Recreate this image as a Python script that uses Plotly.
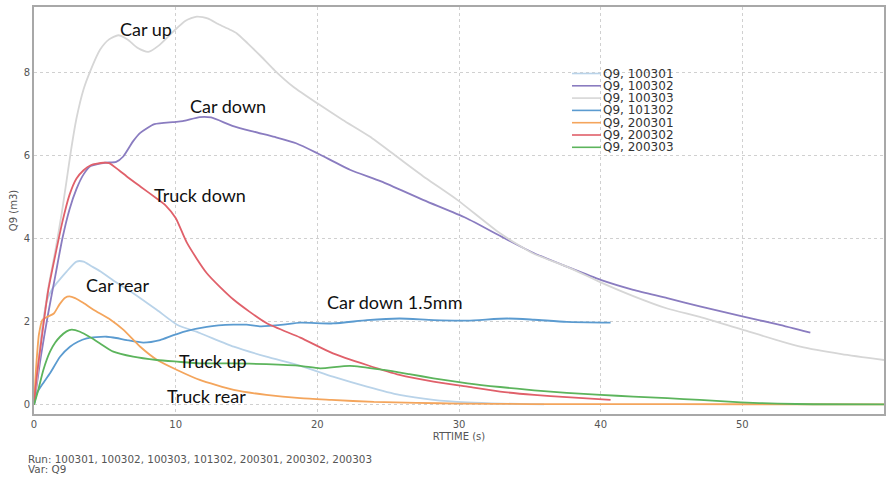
import plotly.graph_objects as go

# ---------------- data ----------------
runs = ["Q9, 100301", "Q9, 100302", "Q9, 100303", "Q9, 101302",
        "Q9, 200301", "Q9, 200302", "Q9, 200303"]
colors = ["#b9d3e9", "#8a7cc0", "#d6d6d6", "#5b9bd0",
          "#f4a55c", "#e0606a", "#5cb45c"]

# 100301 - Car rear
x_100301 = [0, 0.3, 0.6, 0.9, 1.3, 1.6, 2.3, 3.0, 3.5, 4.0, 4.7, 5.8, 7.0, 8.66, 10.1,
            11.7, 14.1, 16.4, 18.8, 21.1, 23.5, 25.8, 28.2, 30.6, 33.0, 36.0]
y_100301 = [0, 1.0, 1.9, 2.5, 2.8, 2.93, 3.21, 3.45, 3.45, 3.35, 3.21, 2.95, 2.69, 2.29, 1.93,
            1.73, 1.40, 1.16, 0.94, 0.68, 0.44, 0.24, 0.12, 0.06, 0.03, 0.01]

# 100302 - Car down
x_100302 = [0, 0.5, 1.0, 1.5, 2.0, 2.5, 3.0, 3.5, 4.0, 5.0, 5.8, 6.3, 7.0, 7.5, 8.5, 9.8,
            10.5, 11.7, 12.5, 14.0, 15.5, 17.0, 18.5, 20.0, 22.3, 24.5, 27.5, 30.5, 33.0,
            35.3, 37.6, 40.0, 42.3, 44.7, 47.0, 50.0, 52.5, 54.8]
y_100302 = [0, 1.2, 2.2, 3.1, 4.0, 4.7, 5.2, 5.55, 5.75, 5.83, 5.85, 5.98, 6.35, 6.55, 6.76, 6.81,
            6.83, 6.93, 6.92, 6.72, 6.58, 6.45, 6.30, 6.06, 5.66, 5.38, 4.93, 4.50, 4.05,
            3.65, 3.33, 3.01, 2.77, 2.57, 2.37, 2.13, 1.94, 1.74]

# 100303 - Car up
x_100303 = [0, 0.3, 0.6, 1.0, 1.5, 1.95, 2.3, 2.6, 3.0, 3.5, 3.95, 4.66, 5.3, 5.95, 6.6, 7.3,
            8.07, 8.8, 9.83, 10.7, 11.5, 12.3, 13.0, 13.8, 14.3, 15.1, 16.0, 17.0, 18.3,
            20.0, 21.8, 23.7, 25.6, 27.7, 29.9, 32.9, 35.2, 37.6, 40.0, 42.3, 44.7, 47.0,
            50.0, 54.1, 57.0, 60.0]
y_100303 = [0, 0.9, 1.8, 2.8, 3.7, 4.6, 5.4, 6.1, 6.9, 7.6, 8.02, 8.55, 8.8, 8.9, 8.8, 8.6,
            8.5, 8.65, 8.99, 9.25, 9.35, 9.3, 9.17, 9.04, 8.95, 8.7, 8.4, 8.05, 7.66,
            7.26, 6.86, 6.46, 5.98, 5.45, 4.93, 4.13, 3.65, 3.33, 2.95, 2.62, 2.32, 2.12,
            1.81, 1.40, 1.22, 1.08]

# 101302 - Car down 1.5mm
x_101302 = [0, 0.2, 0.6, 1.13, 1.84, 2.54, 3.1, 3.72, 4.4, 5.13, 5.8, 6.55, 7.72, 8.9, 9.7,
            10.54, 12.2, 14.07, 15.0, 16.0, 17.6, 18.8, 21.1, 23.5, 25.8, 28.2, 30.6, 33.4,
            35.3, 37.6, 40.7]
y_101302 = [0, 0.28, 0.5, 0.76, 1.16, 1.40, 1.52, 1.60, 1.63, 1.64, 1.61, 1.56, 1.50, 1.56, 1.66,
            1.76, 1.88, 1.93, 1.93, 1.89, 1.93, 1.98, 1.96, 2.04, 2.08, 2.04, 2.03, 2.08,
            2.05, 2.00, 1.98]

# 200301 - Truck rear
x_200301 = [0, 0.15, 0.35, 0.6, 1.0, 1.4, 1.8, 2.2, 2.5, 2.9, 3.5, 4.2, 5.4, 6.3, 7.5, 8.7,
            10.1, 11.7, 14.1, 16.4, 18.8, 21.0, 24.0, 27.0, 30.0, 35.0, 40.0, 50.0, 60.0]
y_200301 = [0, 0.9, 1.7, 2.05, 2.13, 2.2, 2.42, 2.58, 2.61, 2.57, 2.45, 2.29, 2.05, 1.81, 1.40, 1.08,
            0.84, 0.60, 0.36, 0.24, 0.16, 0.12, 0.07, 0.05, 0.03, 0.02, 0.02, 0.015, 0.01]

# 200302 - Truck down
x_200302 = [0, 0.2, 0.5, 1.0, 1.5, 2.0, 2.5, 3.0, 3.5, 4.0, 4.9, 5.3, 6.0, 6.55, 7.5, 8.66,
            9.3, 10.0, 10.8, 12.2, 14.1, 16.4, 18.8, 21.1, 23.5, 25.8, 28.2, 30.6, 32.9,
            35.3, 37.6, 40.7]
y_200302 = [0, 0.7, 1.5, 2.75, 3.6, 4.4, 5.05, 5.45, 5.65, 5.77, 5.83, 5.82, 5.65, 5.5, 5.26, 4.97,
            4.8, 4.5, 3.9, 3.17, 2.53, 1.97, 1.62, 1.24, 0.96, 0.72, 0.56, 0.44, 0.32,
            0.24, 0.185, 0.12]

# 200303 - Truck up
x_200303 = [0, 0.3, 0.66, 1.13, 1.5, 1.84, 2.3, 2.66, 3.25, 4.0, 4.66, 5.6, 7.0, 8.66, 10.1,
            11.7, 14.0, 16.4, 18.8, 20.2, 22.3, 24.7, 26.5, 28.2, 30.6, 32.9, 35.3, 37.6,
            40.0, 42.3, 44.7, 47.0, 49.9, 52.5, 55.0, 60.0]
y_200303 = [0, 0.36, 0.84, 1.28, 1.5, 1.64, 1.77, 1.81, 1.76, 1.62, 1.48, 1.28, 1.16, 1.08, 1.04,
            1.0, 1.0, 0.98, 0.94, 0.88, 0.94, 0.84, 0.74, 0.64, 0.52, 0.43, 0.35, 0.29,
            0.24, 0.20, 0.16, 0.12, 0.06, 0.03, 0.015, 0.01]

series_x = [x_100301, x_100302, x_100303, x_101302, x_200301, x_200302, x_200303]
series_y = [y_100301, y_100302, y_100303, y_101302, y_200301, y_200302, y_200303]

# callout labels added on the chart
label_text = ["Car up", "Car down", "Truck down", "Car rear", "Car down 1.5mm", "Truck up", "Truck rear"]
label_x = [7.93, 13.66, 11.75, 5.87, 25.48, 12.6, 12.17]
label_y = [9.06, 7.19, 5.06, 2.88, 2.47, 1.06, 0.22]

x_ticks = [0, 10, 20, 30, 40, 50, 60]
y_ticks = [0, 2, 4, 6, 8]
footer_lines = ["Run: 100301, 100302, 100303, 101302, 200301, 200302, 200303", "Var: Q9"]

# ---------------- layout constants ----------------
W, H = 886, 479
ML, MR, MT, MB = 34, 2, 7, 65
PW, PH = W - ML - MR, H - MT - MB


def px_to_paper_x(px):
    return (px - ML) / PW


def py_to_paper_y(py):
    return (H - MB - py) / PH


fig = go.Figure()
for name, xs, ys, c in zip(runs, series_x, series_y, colors):
    fig.add_trace(go.Scatter(x=xs, y=ys, mode="lines", name=name,
                             line=dict(color=c, width=1.8, shape="spline", smoothing=0.6),
                             showlegend=False))

# callout annotations
for t, ax, ay in zip(label_text, label_x, label_y):
    fig.add_annotation(x=ax, y=ay, xref="x", yref="y", text=t, showarrow=False,
                       font=dict(family="Lato", size=18, color="#111111"))

# manual compact legend (matplotlib-like spacing)
shapes = [dict(type="rect", xref="paper", yref="paper", layer="between",
               x0=px_to_paper_x(568), x1=px_to_paper_x(682),
               y0=py_to_paper_y(63), y1=py_to_paper_y(153),
               fillcolor="white", line=dict(width=0))]
leg_y0, leg_dy = 73.5, 12.3
for i, (name, c) in enumerate(zip(runs, colors)):
    py = leg_y0 + i * leg_dy
    shapes.append(dict(type="line", xref="paper", yref="paper",
                       x0=px_to_paper_x(572), x1=px_to_paper_x(601),
                       y0=py_to_paper_y(py), y1=py_to_paper_y(py),
                       line=dict(color=c, width=1.6)))
    fig.add_annotation(x=px_to_paper_x(602), y=py_to_paper_y(py), xref="paper", yref="paper",
                       text=name, showarrow=False, xanchor="left", yanchor="middle",
                       borderpad=0, height=12,
                       font=dict(family="DejaVu Sans", size=12, color="#333333"))

# footer text
for i, line in enumerate(footer_lines):
    fig.add_annotation(x=px_to_paper_x(27), y=py_to_paper_y(459 + i * 10.5), xref="paper", yref="paper",
                       text=line, showarrow=False, xanchor="left", yanchor="middle",
                       borderpad=0, height=10,
                       font=dict(family="DejaVu Sans", size=10.4, color="#555555"))

fig.update_layout(
    width=W, height=H,
    margin=dict(l=ML, r=MR, t=MT, b=MB, autoexpand=False),
    paper_bgcolor="white", plot_bgcolor="white",
    shapes=shapes,
    showlegend=False,
    font=dict(family="DejaVu Sans", size=10, color="#555555"),
)
fig.update_xaxes(range=[0, 60], tickvals=x_ticks, showgrid=True, gridcolor="#d0d0d0",
                 griddash="3px,3px", gridwidth=1, zeroline=False,
                 showline=True, linecolor="#a8a8a8", linewidth=2, mirror=True,
                 ticks="", tickfont=dict(size=10, color="#555555"),
                 title=dict(text="RTTIME (s)", font=dict(size=10, color="#555555"), standoff=4),
                 automargin=False)
fig.update_yaxes(range=[-0.22, 9.58], tickvals=y_ticks, showgrid=True, gridcolor="#d0d0d0",
                 griddash="3px,3px", gridwidth=1, zeroline=False,
                 showline=True, linecolor="#a8a8a8", linewidth=2, mirror=True,
                 ticks="", tickfont=dict(size=10, color="#555555"),
                 title=dict(text="Q9 (m3)", font=dict(size=10, color="#555555"), standoff=4),
                 automargin=False)

fig.write_html("out.html", config={"displayModeBar": False},
               post_script="document.body.style.margin='0';")
